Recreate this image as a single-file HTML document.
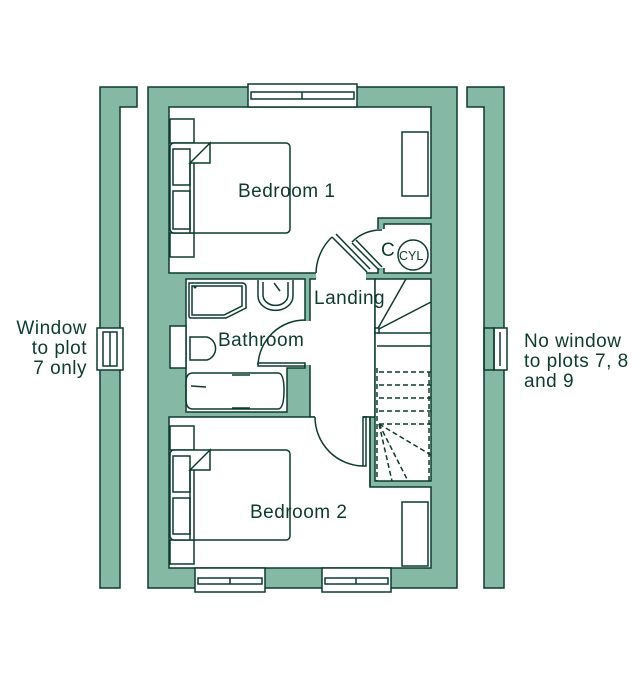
<!DOCTYPE html>
<html><head><meta charset="utf-8"><style>
html,body{margin:0;padding:0;background:#fff;width:639px;height:686px;overflow:hidden}
svg{display:block}
text{font-family:"Liberation Sans",sans-serif;fill:#0d3b2e}
</style></head><body>
<svg width="639" height="686" viewBox="0 0 639 686" xmlns="http://www.w3.org/2000/svg">
<g stroke="#0d3b2e" stroke-width="1.5" fill="#86b8a6">
<path d="M100,87 H137 V107 H120 V588 H100 Z"/>
<path d="M467,87 H504 V588 H484 V107 H467 Z"/>
<rect x="148" y="87" width="309" height="501"/>
</g>
<g stroke="#0d3b2e" stroke-width="1.5" fill="#fff">
<rect x="97" y="328" width="26" height="42"/><rect x="103" y="332" width="14" height="34" fill="none"/><line x1="110" y1="332" x2="110" y2="366"/>
<rect x="494" y="328" width="13" height="42"/><rect x="484" y="328" width="10" height="42" fill="none"/><line x1="500" y1="332" x2="500" y2="366"/>
<path d="M169,107 H431 V218 H378 V273 H169 Z"/>
<rect x="384" y="224" width="47" height="49"/>
<rect x="310" y="279" width="65" height="138"/>
<path d="M186,279 H305 V368 H287 V412 H186 Z"/>
<rect x="170" y="326" width="16" height="42"/>
<rect x="375" y="279" width="56" height="202"/>
<path d="M169,417 H370 V487 H431 V568 H169 Z"/>
</g>
<g fill="#fff">
<rect x="316" y="271" width="50" height="10"/>
<rect x="376" y="229" width="10" height="39"/>
<rect x="303" y="321" width="9" height="44"/>
<rect x="315" y="410" width="48" height="9"/>
</g>
<g stroke="#0d3b2e" stroke-width="1.5" fill="none">
<line x1="370" y1="417" x2="370" y2="487"/>
<rect x="248" y="84" width="109" height="23" fill="#fff"/><rect x="251" y="92" width="103" height="7"/><line x1="302" y1="92" x2="302" y2="99"/>
<rect x="195" y="568" width="70" height="24" fill="#fff"/><rect x="198" y="578" width="64" height="6"/><line x1="230" y1="578" x2="230" y2="584"/>
<rect x="322" y="568" width="69" height="24" fill="#fff"/><rect x="325" y="578" width="63" height="6"/><line x1="356" y1="578" x2="356" y2="584"/>
<path d="M316,273 A51,51 0 0 1 332,237"/>
<path d="M332,237 L367,272 M336,234 L370,269"/>
<path d="M352,242 A40,40 0 0 1 382,230"/>
<path d="M352,243 L379,270 M356,240 L382,267"/>
<path d="M258,365 A47,47 0 0 1 305,320"/>
<rect x="258" y="363" width="47" height="3"/>
<path d="M315,417 A49,49 0 0 0 363,466"/>
<rect x="363" y="417" width="3" height="49"/>
<circle cx="413" cy="255" r="15"/>
<line x1="377" y1="333" x2="431" y2="333"/>
<line x1="377" y1="346" x2="431" y2="346"/>
<line x1="377" y1="330" x2="406" y2="279"/>
<line x1="377" y1="330" x2="431" y2="302"/>
<rect x="375" y="328" width="4" height="5" fill="#fff"/>
<g stroke-dasharray="5,3">
<line x1="379" y1="372" x2="431" y2="372"/>
<line x1="379" y1="385" x2="431" y2="385"/>
<line x1="379" y1="398" x2="431" y2="398"/>
<line x1="379" y1="411" x2="431" y2="411"/>
<line x1="379" y1="424" x2="431" y2="424"/>
<line x1="379" y1="424" x2="431" y2="455"/>
<line x1="379" y1="424" x2="408" y2="481"/>
<line x1="379" y1="424" x2="392" y2="481"/>
<line x1="429" y1="372" x2="429" y2="481"/>
<line x1="377" y1="368" x2="377" y2="481"/>
</g>
<rect x="170" y="119" width="24" height="24"/>
<rect x="170" y="233" width="24" height="24"/>
<rect x="170" y="143" width="120" height="90" rx="4" fill="#fff"/>
<rect x="173" y="149" width="17" height="36"/><rect x="173" y="191" width="17" height="38"/>
<line x1="190" y1="163" x2="190" y2="233"/><line x1="194" y1="163" x2="194" y2="233"/>
<path d="M190,163 L210,143 V163 Z"/>
<rect x="402" y="132" width="26" height="64"/>
<rect x="170" y="426" width="24" height="24"/>
<rect x="170" y="540" width="24" height="24"/>
<rect x="170" y="450" width="120" height="90" rx="4" fill="#fff"/>
<rect x="173" y="456" width="17" height="36"/><rect x="173" y="498" width="17" height="36"/>
<line x1="190" y1="470" x2="190" y2="540"/><line x1="194" y1="470" x2="194" y2="540"/>
<path d="M190,470 L210,450 V470 Z"/>
<rect x="402" y="502" width="26" height="64"/>
<path d="M189,283 H242 Q246,283 246,287 V308 L226,318 H191 Q189,318 189,316 Z"/>
<path d="M192,286 H242 V306 L224,315 H192 Z"/>
<path d="M258,280 V296 A17,14 0 0 0 293,296 V280"/>
<path d="M263,282 V295 A12,10 0 0 0 288,295 V282"/>
<line x1="274" y1="283" x2="280" y2="291"/>
<path d="M190,337 H207 A12,12 0 0 1 207,360 H190 Z"/>
<path d="M193,373 H278 Q284,373 284,390 Q284,409 278,409 H193 Q186,409 186,400 V382 Q186,373 193,373 Z"/>
<path d="M232,375 H250 M232,408 H250"/>
<line x1="191" y1="386" x2="206" y2="387"/>
</g>
<circle cx="195" cy="287" r="1.5" fill="#0d3b2e"/>
<g font-size="19" letter-spacing="0.5">
<text x="238" y="197">Bedroom 1</text>
<text x="314" y="304">Landing</text>
<text x="218" y="346">Bathroom</text>
<text x="250" y="518">Bedroom 2</text>
<text x="381" y="256">C</text>
<text x="87" y="334" text-anchor="end">Window</text>
<text x="87" y="354" text-anchor="end">to plot</text>
<text x="87" y="374" text-anchor="end">7 only</text>
<text x="524" y="347">No window</text>
<text x="524" y="367">to plots 7, 8</text>
<text x="524" y="387">and 9</text>
</g>
<text x="399" y="260" font-size="12.5">CYL</text>
</svg>
</body></html>
